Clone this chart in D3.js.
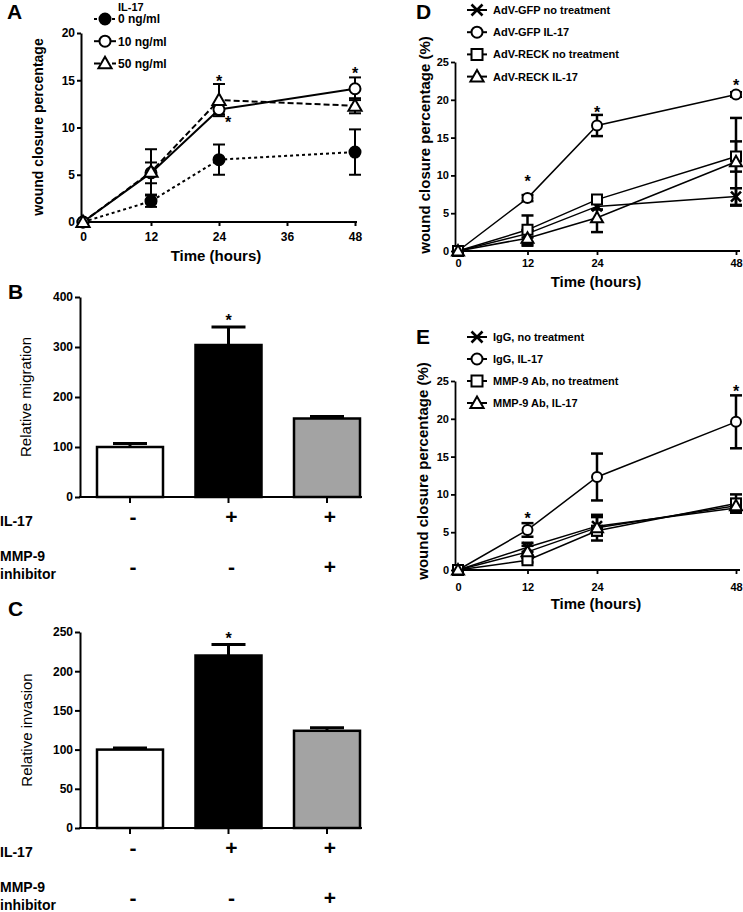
<!DOCTYPE html>
<html><head><meta charset="utf-8">
<script src="https://cdn.jsdelivr.net/npm/d3@7"></script>
<style>body{margin:0;background:#fff}</style>
</head><body><svg id="chart" width="743" height="912" style="display:block;background:#fff"></svg>
<script>
// ---------------- DATA ----------------
const times = [0, 12, 24, 48];
const timeTicksA = [0, 12, 24, 36, 48];
const timeTicksDE = [0, 12, 24, 48];
const yTicksA = [0, 5, 10, 15, 20];
const yTicksDE = [0, 5, 10, 15, 20, 25];

// Panel A (IL-17 dose)
const legendTitleA = "IL-17";
const seriesNamesA = ["0 ng/ml", "10 ng/ml", "50 ng/ml"];
const a0Mean = [0, 2.2, 6.6, 7.4];
const a0Err = [0, 0.6, 1.6, 2.4];
const a10Mean = [0, 5.2, 11.9, 14.1];
const a10Err = [0, 1.1, 0.5, 1.2];
const a50Mean = [0, 5.3, 12.9, 12.3];
const a50Err = [0, 2.4, 1.7, 0.8];
const starsA = [{t: 24, v: 15.3}, {t: 25.6, v: 11.0}, {t: 48, v: 16.1}];

// Panel B (migration)
const barCats = ["ctrl", "IL-17", "IL-17 + inhibitor"];
const il17Signs = ["-", "+", "+"];
const mmpSigns = ["-", "-", "+"];
const yTicksB = [0, 100, 200, 300, 400];
const migMean = [100, 304, 157];
const migErr = [7, 36, 4];
const starB = {i: 1, v: 362};

// Panel C (invasion)
const yTicksC = [0, 50, 100, 150, 200, 250];
const invMean = [100, 220, 124];
const invErr = [2, 14, 4];
const starC = {i: 1, v: 247};

// Panel D (RECK)
const seriesNamesD = ["AdV-GFP no treatment", "AdV-GFP IL-17", "AdV-RECK no treatment", "AdV-RECK IL-17"];
const gfpNoMean = [0, 2.3, 5.9, 7.2];
const gfpNoErr = [0, 0.5, 0.4, 1.1];
const gfpIlMean = [0, 7.0, 16.6, 20.7];
const gfpIlErr = [0, 0.4, 1.4, 0.3];
const reckNoMean = [0, 2.8, 6.8, 12.5];
const reckNoErr = [0, 1.9, 0.4, 2.0];
const reckIlMean = [0, 1.7, 4.4, 11.8];
const reckIlErr = [0, 1.0, 1.9, 5.8];
const starsD = [{t: 12, v: 9.8}, {t: 24, v: 18.9}, {t: 48, v: 22.5}];

// Panel E (MMP-9 Ab)
const seriesNamesE = ["IgG, no treatment", "IgG, IL-17", "MMP-9 Ab, no treatment", "MMP-9 Ab, IL-17"];
const igNoMean = [0, 3.0, 5.8, 8.2];
const igNoErr = [0, 0.6, 1.2, 0.6];
const igIlMean = [0, 5.3, 12.3, 19.6];
const igIlErr = [0, 0.9, 3.1, 3.5];
const mmpNoMean = [0, 1.3, 5.2, 8.8];
const mmpNoErr = [0, 0.3, 0.6, 1.2];
const mmpIlMean = [0, 2.4, 5.6, 8.5];
const mmpIlErr = [0, 0.8, 1.7, 0.9];
const starsE = [{t: 12, v: 7.3}, {t: 48, v: 24.1}];

// ---------------- DRAWING ----------------
const FONT = 'Arial, "Liberation Sans", Helvetica, sans-serif';
const svg = d3.select("#chart");

function markerPath(type, s) {
  switch (type) {
    case "circle": case "fcircle": return d3.symbol(d3.symbolCircle, Math.PI * s * s)();
    case "triangle": return `M0,${-s * 1.2}L${s * 1.2},${s * 0.9}L${-s * 1.2},${s * 0.9}Z`;
    case "square": return `M${-s},${-s}H${s}V${s}H${-s}Z`;
    case "x": return `M${-s},${-s}L${s},${s}M${-s},${s}L${s},${-s}`;
  }
}
function styleMarker(sel, type, sw) {
  sel.attr("fill", type === "fcircle" ? "#000" : (type === "x" ? "none" : "#fff"))
     .attr("stroke", "#000").attr("stroke-width", type === "x" ? sw + 0.6 : sw);
}
function txt(g, x, y, s, size, weight, anchor) {
  return g.append("text").attr("x", x).attr("y", y).text(s)
    .attr("font-family", FONT).attr("font-size", size).attr("font-weight", weight || "bold")
    .attr("text-anchor", anchor || "start").attr("fill", "#000");
}
function styleAxis(g, fs, sw) {
  g.attr("font-family", FONT).attr("font-size", fs).attr("font-weight", "bold");
  g.selectAll(".tick text").attr("fill", "#000");
  g.selectAll(".tick line").attr("stroke", "#000").attr("stroke-width", sw);
  g.select(".domain").attr("stroke", "#000").attr("stroke-width", sw);
}
function star(g, x, y, size) {
  txt(g, x, y, "*", size, "bold", "middle").attr("dy", "0.6em");
}

function lineChart(o) {
  const g = svg.append("g");
  const {x, y} = o;
  const ya = d3.axisLeft(y).tickValues(o.yTicks).tickSize(o.tick).tickPadding(o.ypad).tickSizeOuter(0);
  const gy = g.append("g").attr("transform", `translate(${o.yAxisX},0)`).call(ya);
  styleAxis(gy, o.tickFs, o.axisW);
  const xa = d3.axisBottom(x).tickValues(o.xTicks).tickSize(o.tick).tickPadding(o.xpad).tickSizeOuter(0);
  const gx = g.append("g").attr("transform", `translate(0,${y(0)})`).call(xa);
  styleAxis(gx, o.tickFs, o.axisW);
  gx.select(".domain").remove();
  gx.append("line").attr("x1", o.yAxisX - o.axisW / 2).attr("x2", o.xEnd).attr("stroke", "#000").attr("stroke-width", o.axisW);

  // error bars
  o.series.forEach(s => {
    times.forEach((t, i) => {
      const e = s.err[i]; if (!e) return;
      const cx = x(t), y1 = y(s.mean[i] + e), y2 = y(s.mean[i] - e);
      g.append("line").attr("x1", cx).attr("x2", cx).attr("y1", y1).attr("y2", y2).attr("stroke", "#000").attr("stroke-width", o.errW);
      [y1, y2].forEach(yy => g.append("line").attr("x1", cx - o.cap).attr("x2", cx + o.cap).attr("y1", yy).attr("y2", yy).attr("stroke", "#000").attr("stroke-width", o.errW));
    });
  });
  // lines
  const line = d3.line().x((d, i) => x(times[i])).y(d => y(d));
  o.series.forEach(s => {
    g.append("path").attr("d", line(s.mean)).attr("fill", "none").attr("stroke", "#000")
      .attr("stroke-width", o.lineW).attr("stroke-dasharray", s.dash || null);
  });
  // markers
  o.series.forEach(s => {
    s.mean.forEach((v, i) => {
      g.append("path").attr("d", markerPath(s.marker, o.ms)).attr("transform", `translate(${x(times[i])},${y(v)})`)
        .call(styleMarker, s.marker, o.markerW);
    });
  });
  // stars
  o.stars.forEach(st => star(g, x(st.t), y(st.v), o.starFs));
  // titles
  txt(g, o.xTitle[0], o.xTitle[1], "Time (hours)", 15, "bold", "middle");
  txt(g, 0, 0, o.yTitle, o.yTitleFs, "bold", "middle").attr("dy", "0.35em")
    .attr("transform", `translate(${o.yTitlePos[0]},${o.yTitlePos[1]}) rotate(-90)`);
  // legend
  const L = o.legend;
  if (L.title) txt(g, L.titlePos[0], L.titlePos[1], L.title, L.titleFs, "bold");
  o.series.forEach((s, i) => {
    const ly = L.y0 + i * L.dy;
    g.append("line").attr("x1", L.x - L.half).attr("x2", L.x + L.half).attr("y1", ly).attr("y2", ly)
      .attr("stroke", "#000").attr("stroke-width", L.lineW || o.lineW).attr("stroke-dasharray", s.dash || null);
    g.append("path").attr("d", markerPath(s.marker, L.ms || o.ms)).attr("transform", `translate(${L.x},${ly})`)
      .call(styleMarker, s.marker, o.markerW);
    txt(g, L.tx, ly, s.name, L.fs, "bold").attr("dy", "0.36em");
  });
  // panel letter
  txt(g, o.letterPos[0], o.letterPos[1], o.letter, 21, "bold");
}

function barChart(o) {
  const g = svg.append("g");
  const x = d3.scaleBand().domain(barCats).range([80, 377]).paddingInner(0.33).paddingOuter(0.1726);
  const y = o.y;
  const ya = d3.axisLeft(y).tickValues(o.yTicks).tickSize(5).tickPadding(2).tickSizeOuter(0);
  const gy = g.append("g").attr("transform", `translate(80,0)`).call(ya);
  styleAxis(gy, 12, 2);
  // bars
  const fills = ["#fff", "#000", "#a3a3a3"];
  barCats.forEach((c, i) => {
    const cx = x(c) + x.bandwidth() / 2;
    const top = y(o.mean[i] + o.err[i]);
    g.append("line").attr("x1", cx).attr("x2", cx).attr("y1", y(o.mean[i])).attr("y2", top).attr("stroke", "#000").attr("stroke-width", 3);
    g.append("line").attr("x1", cx - 17).attr("x2", cx + 17).attr("y1", top).attr("y2", top).attr("stroke", "#000").attr("stroke-width", 3);
    g.append("rect").attr("x", x(c)).attr("width", x.bandwidth()).attr("y", y(o.mean[i])).attr("height", y(0) - y(o.mean[i]))
      .attr("fill", fills[i]).attr("stroke", "#000").attr("stroke-width", 2.5);
    g.append("line").attr("x1", cx).attr("x2", cx).attr("y1", y(0)).attr("y2", y(0) + 6).attr("stroke", "#000").attr("stroke-width", 2);
    txt(g, cx + 3, y(0) + o.row1, il17Signs[i], 21, "bold", "middle").attr("dy", "0.36em");
    txt(g, cx + 3, y(0) + o.row2, mmpSigns[i], 21, "bold", "middle").attr("dy", "0.36em");
  });
  g.append("line").attr("x1", 79).attr("x2", 362).attr("y1", y(0)).attr("y2", y(0)).attr("stroke", "#000").attr("stroke-width", 2);
  const sc = x(barCats[o.star.i]) + x.bandwidth() / 2;
  star(g, sc, y(o.star.v), 16);
  txt(g, 0, 0, o.yTitle, 15, "normal", "middle").attr("dy", "0.35em")
    .attr("transform", `translate(${o.yTitleX},${(y.range()[0] + y.range()[1]) / 2}) rotate(-90)`);
  txt(g, 0, y(0) + o.row1 + 5, "IL-17", 14, "bold").attr("dy", "0.36em");
  txt(g, 0, y(0) + o.row2 - 10, "MMP-9", 14, "bold").attr("dy", "0.36em");
  txt(g, 0, y(0) + o.row2 + 8, "inhibitor", 14, "bold").attr("dy", "0.36em");
  txt(g, o.letterPos[0], o.letterPos[1], o.letter, 21, "bold");
}

// Panel A
lineChart({
  x: d3.scaleLinear().domain([0, 48]).range([83, 355]),
  y: d3.scaleLinear().domain([0, 20]).range([222, 33]),
  yAxisX: 81, xEnd: 357, tick: 4, ypad: 2, xpad: 6, tickFs: 12, axisW: 2,
  xTicks: timeTicksA, yTicks: yTicksA,
  errW: 2, cap: 6, lineW: 2, ms: 5.5, markerW: 2, starFs: 16,
  series: [
    {name: seriesNamesA[0], mean: a0Mean, err: a0Err, marker: "fcircle", dash: "3,3"},
    {name: seriesNamesA[1], mean: a10Mean, err: a10Err, marker: "circle"},
    {name: seriesNamesA[2], mean: a50Mean, err: a50Err, marker: "triangle", dash: "6,3"}
  ],
  stars: starsA,
  xTitle: [216, 261], yTitle: "wound closure percentage", yTitleFs: 14, yTitlePos: [38, 127],
  legend: {title: legendTitleA, titleFs: 11, titlePos: [118, 11], fs: 12, x: 105, half: 11, tx: 118, y0: 19, dy: 22.2},
  letter: "A", letterPos: [7, 19]
});

// Panel B
barChart({
  y: d3.scaleLinear().domain([0, 400]).range([497, 297]), yTicks: yTicksB,
  mean: migMean, err: migErr, star: starB, yTitle: "Relative migration", yTitleX: 26,
  row1: 19, row2: 69, letter: "B", letterPos: [8, 299]
});

// Panel C
barChart({
  y: d3.scaleLinear().domain([0, 250]).range([828, 632]), yTicks: yTicksC,
  mean: invMean, err: invErr, star: starC, yTitle: "Relative invasion", yTitleX: 27,
  row1: 19, row2: 69, letter: "C", letterPos: [8, 616]
});

// Panel D
lineChart({
  x: d3.scaleLinear().domain([0, 48]).range([458, 736]),
  y: d3.scaleLinear().domain([0, 25]).range([251, 62]),
  yAxisX: 455, xEnd: 740, tick: 4, ypad: 2, xpad: 4, tickFs: 11, axisW: 1.8,
  xTicks: timeTicksDE, yTicks: yTicksDE,
  errW: 2.5, cap: 6, lineW: 1.5, ms: 5, markerW: 2, starFs: 16,
  series: [
    {name: seriesNamesD[0], mean: gfpNoMean, err: gfpNoErr, marker: "x"},
    {name: seriesNamesD[1], mean: gfpIlMean, err: gfpIlErr, marker: "circle"},
    {name: seriesNamesD[2], mean: reckNoMean, err: reckNoErr, marker: "square"},
    {name: seriesNamesD[3], mean: reckIlMean, err: reckIlErr, marker: "triangle"}
  ],
  stars: starsD,
  xTitle: [596, 287], yTitle: "wound closure percentage (%)", yTitleFs: 15, yTitlePos: [425, 145],
  legend: {title: null, fs: 11, x: 477, half: 10, tx: 493, y0: 10, dy: 22.2, lineW: 2, ms: 5.5},
  letter: "D", letterPos: [416, 19]
});

// Panel E
lineChart({
  x: d3.scaleLinear().domain([0, 48]).range([458, 736]),
  y: d3.scaleLinear().domain([0, 25]).range([570, 381]),
  yAxisX: 455, xEnd: 740, tick: 4, ypad: 2, xpad: 9, tickFs: 11, axisW: 1.8,
  xTicks: timeTicksDE, yTicks: yTicksDE,
  errW: 2.5, cap: 6, lineW: 1.5, ms: 5, markerW: 2, starFs: 16,
  series: [
    {name: seriesNamesE[0], mean: igNoMean, err: igNoErr, marker: "x"},
    {name: seriesNamesE[1], mean: igIlMean, err: igIlErr, marker: "circle"},
    {name: seriesNamesE[2], mean: mmpNoMean, err: mmpNoErr, marker: "square"},
    {name: seriesNamesE[3], mean: mmpIlMean, err: mmpIlErr, marker: "triangle"}
  ],
  stars: starsE,
  xTitle: [596, 609], yTitle: "wound closure percentage (%)", yTitleFs: 15, yTitlePos: [423, 471],
  legend: {title: null, fs: 11, x: 477, half: 10, tx: 493, y0: 337, dy: 22, lineW: 2, ms: 5.5},
  letter: "E", letterPos: [416, 344]
});
</script>
</body></html>
